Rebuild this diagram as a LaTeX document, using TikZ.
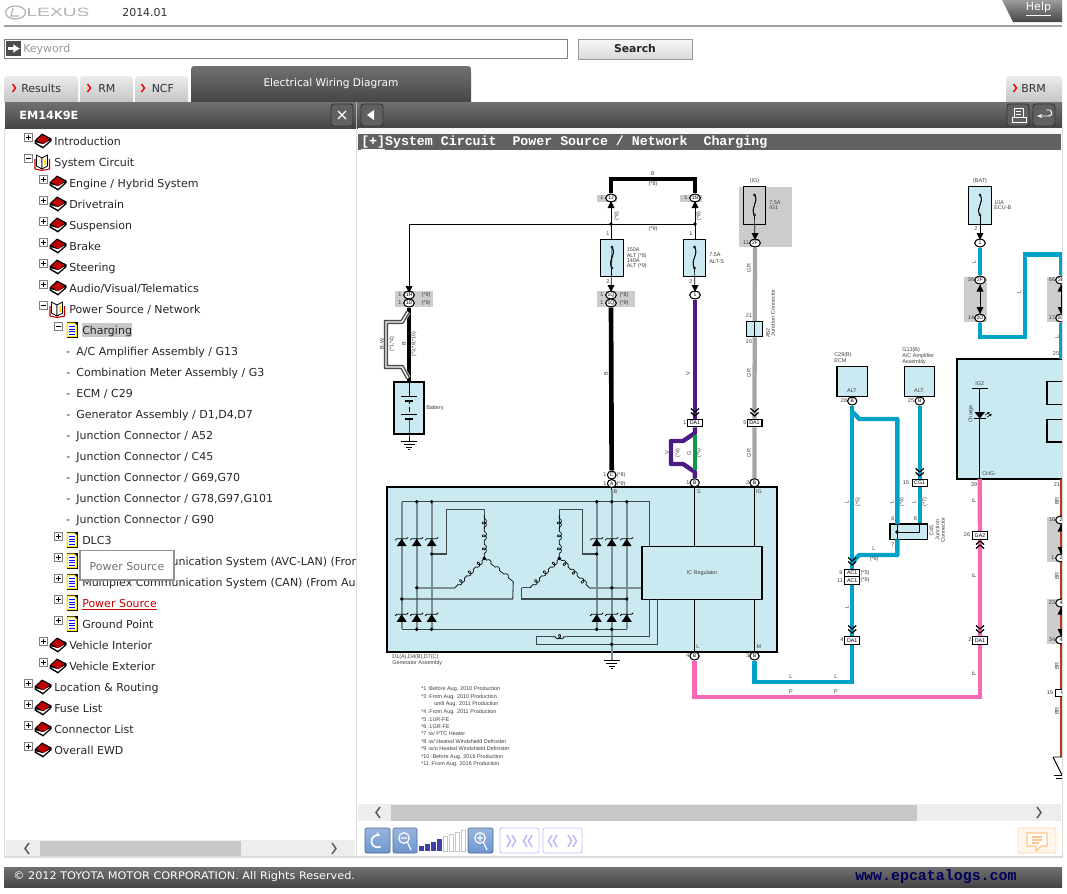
\documentclass[tikz,border=0pt]{standalone}
\usepackage{fontspec}
\setmainfont{DejaVu Sans}
\newfontfamily\libf{Liberation Sans}
\newfontfamily\monof{Liberation Mono}
\usetikzlibrary{shapes.geometric,arrows.meta,decorations.pathmorphing,calc}
\pgfdeclarelayer{bx}\pgfdeclarelayer{wr}\pgfsetlayers{bx,wr,main}
\definecolor{pane}{HTML}{CBE9F1}
\definecolor{wblue}{HTML}{00A2C8}
\definecolor{wpink}{HTML}{F768B5}
\definecolor{wpurple}{HTML}{4D1A85}
\definecolor{wgreen}{HTML}{0A9A4A}
\definecolor{wgray}{HTML}{A6A6A6}
\definecolor{wbrown}{HTML}{B5391A}
\definecolor{gbox}{HTML}{CCCCCC}
\definecolor{gline}{HTML}{7C8E93}
\definecolor{hbar}{HTML}{3F4A4D}
\definecolor{dtop}{HTML}{717171}
\definecolor{dbot}{HTML}{454545}
\definecolor{btnb}{HTML}{6D96CF}
\newcommand{\fsz}[1]{\fontsize{#1}{#1}\selectfont}
\newcounter{nn}
\newcommand{\lab}[3]{\stepcounter{nn}\node[lbl] (t\thenn) at (#1,#2) {#3};}
\newcommand{\labl}[3]{\stepcounter{nn}\node[lbl,anchor=west] (t\thenn) at (#1,#2) {#3};}
\newcommand{\labr}[3]{\stepcounter{nn}\node[lbl,rotate=90] (t\thenn) at (#1,#2) {#3};}
\newcommand{\tbox}[3]{\draw[draw=gray,fill=white,line width=.6pt] (#1-4,#2-4) rectangle (#1+4,#2+4);
 \draw[line width=.55pt] (#1-2.5,#2) -- (#1+2.5,#2);
 \if#3p\draw[line width=.55pt] (#1,#2-2.5) -- (#1,#2+2.5);\fi}
\newcommand{\bookic}[2]{\begin{scope}[shift={(#1,#2)}]
 \fill[black] (-8.5,-.5) -- (-1,-7.5) -- (8.5,-2.5) -- (8.5,0) -- (0,7.5) -- (-8.5,2.5) -- cycle;
 \fill[white] (-7.5,1.3) -- (0,5.7) -- (7,-.5) -- (0,3.2) -- cycle;
 \fill[red!75!black] (-6.5,-.8) -- (-1,-6) -- (6.5,-2) -- (.5,3) -- cycle;
 \end{scope}}
\newcommand{\openic}[2]{\begin{scope}[shift={(#1,#2)}]
 \draw[black,fill=white,line width=.6pt] (-6,-7) -- (-6,4) -- (-.5,7) -- (-.5,-4) -- cycle;
 \draw[black,fill=white,line width=.6pt] (5,-7) -- (5,4) -- (-.5,7) -- (-.5,-4) -- cycle;
 \draw[red!75!black,line width=.8pt] (-7.5,-3) -- (-7.5,7) -- (-.5,8.5) -- (7,7) -- (7,-3);
 \fill[yellow!85!orange] (1,-3) rectangle (3.5,3);
 \end{scope}}
\newcommand{\docic}[2]{\begin{scope}[shift={(#1,#2)}]
 \fill[black] (-5,-8) rectangle (6,8);
 \fill[yellow!85!orange] (-5.5,-7.5) -- (2.5,-7.5) -- (5,-5) -- (5,7) -- (-5.5,7) -- cycle;
 \fill[white] (-4.2,-6.3) -- (2,-6.3) -- (3.8,-4.5) -- (3.8,5.8) -- (-4.2,5.8) -- cycle;
 \foreach \q in {-3.5,-1,1.5,4} \draw[blue,line width=.75pt] (-3,\q) -- (2.7,\q);
 \end{scope}}
\newcommand{\tnode}[3]{\stepcounter{nn}\node[tree] (t\thenn) at (#1,#2+4) {#3};}
\newcommand{\tabp}[4]{(#1,#4) -- (#1,#3+7) .. controls (#1,#3) .. (#1+7,#3) -- (#2-7,#3) .. controls (#2,#3) .. (#2,#3+7) -- (#2,#4) -- cycle}
\newcommand{\zen}[2]{\fill (#1-5,#2+4.5) -- (#1+5,#2+4.5) -- (#1,#2-3) -- cycle;
 \draw[line width=.6pt] (#1-6.5,#2-1.5) -- (#1-5,#2-3) -- (#1+5,#2-3) -- (#1+6.5,#2-4.5);}
\newcommand{\jd}[2]{\fill[black] (#1,#2) circle (1.9);}
\newcommand{\chevd}[2]{\draw[line width=.7pt] (#1-4,#2-3.5) -- (#1,#2) -- (#1+4,#2-3.5) (#1-4,#2+.5) -- (#1,#2+4) -- (#1+4,#2+.5);}
\newcommand{\chevu}[2]{\draw[line width=.7pt] (#1-4,#2+3.5) -- (#1,#2) -- (#1+4,#2+3.5) (#1-4,#2-.5) -- (#1,#2-4) -- (#1+4,#2-.5);}
\newcommand{\fusesym}[3]{\draw[line width=.55pt] (#1,#2) .. controls (#1+5,#2+7) and (#1-5,#3-7) .. (#1,#3);
 \draw[fill=white,line width=.4pt] (#1,#2) circle (1.1) (#1,#3) circle (1.1);}
\newcommand{\gnd}[2]{\draw[line width=.55pt] (#1-8,#2) -- (#1+8,#2) (#1-5.5,#2+3) -- (#1+5.5,#2+3) (#1-3,#2+6) -- (#1+3,#2+6) (#1-1,#2+8) -- (#1+1,#2+8);}
\tikzset{
 lbl/.style={font=\libf\fsz{4.1},text=black!75,inner sep=0pt},
 tree/.style={font=\fsz{8.25},anchor=base west,inner sep=0pt,text=black!85},
 conn/.style={ellipse,draw=black,line width=.8pt,fill=white,minimum width=8pt,minimum height=6pt,inner sep=0pt,font=\libf\fsz{3.8}},
 jbox/.style={rectangle,draw=black,line width=.8pt,fill=white,minimum width=11.2pt,minimum height=5.6pt,inner sep=0pt,font=\libf\fsz{4}},
 fuse/.style={rectangle,draw=black,line width=.9pt,fill=pane,minimum width=17pt,minimum height=28.2pt,inner sep=0pt},
 comp/.style={rectangle,draw=black,line width=.95pt,fill=pane,inner sep=0pt},
 wb/.style={line width=3.3pt,wblue},
 wp/.style={line width=3.3pt,wpink},
 wv/.style={line width=3.3pt,wpurple},
 wk/.style={line width=3.5pt,black},
 wgr/.style={line width=3.2pt,wgray},
 thin wire/.style={line width=.5pt,black},
 gv/.style={line width=1.2pt,gline},
 gh/.style={line width=.8pt,hbar},
 tab/.style={top color=white!85!gray,bottom color=gray!45},
 tabtxt/.style={font=\fsz{8.25},text=black!80,inner sep=0pt},
 dbtn/.style={draw=black!80,line width=.7pt,rounded corners=2pt,fill=black!62},
 tb/.style={top color=btnb!70,bottom color=btnb,draw=btnb!70!black,line width=.5pt,rounded corners=1.5pt},
 tbp/.style={fill=white,draw=blue!25,line width=.6pt,rounded corners=1.5pt},
 coiled/.style={decoration={coil,aspect=.85,segment length=2.6pt,amplitude=1.6pt}},
}
\newcommand{\wind}[2]{\draw[line width=.5pt,coiled] (#1) -- ($(#1)!.08!(#2)$) decorate{-- ($(#1)!.3!(#2)$)} -- ($(#1)!.38!(#2)$) decorate{-- ($(#1)!.6!(#2)$)} -- ($(#1)!.68!(#2)$) decorate{-- ($(#1)!.9!(#2)$)} -- (#2);}
\begin{document}
\begin{tikzpicture}[x=.75pt,y=-.75pt]
\useasboundingbox (0,0) rectangle (1067,893);
\begin{pgfonlayer}{bx}
\fill[white] (0,0) rectangle (1067,893);
\end{pgfonlayer}

%%%% ---------- header ----------
\draw[gray!75,line width=1.3pt] (4,26) -- (1062,26);
\draw[gray!60,line width=.9pt] (15.5,12.5) ellipse (10 and 6.5);
\draw[gray!60,line width=.9pt] (13,8) -- (11,16) -- (19,16);
\node[font=\libf\fsz{9},text=gray!60,inner sep=0pt,xscale=1.6] (logo) at (58,12.5) {LEXUS};
\node[font=\fsz{8.25},text=black!80,inner sep=0pt] (ver) at (145,12) {2014.01};
\shade[top color=dtop!70,bottom color=dbot] (1002,0) -- (1013,22) -- (1062,22) -- (1062,0) -- cycle;
\node[font=\fsz{8.25},text=white,inner sep=0pt] (help) at (1038.5,9) {\underline{Help}};
\draw[gray,fill=white,line width=.7pt] (4.5,39.5) rectangle (567,58);
\fill[black!70] (6,41) rectangle (21,56);
\draw[white,line width=2pt,-{Latex[length=5pt,width=7pt]}] (8,48.5) -- (20,48.5);
\node[font=\fsz{8.25},text=black!40,anchor=west,inner sep=0pt] (kw) at (23,49) {Keyword};
\shade[top color=white!95!gray,bottom color=gray!30,draw=gray!80,line width=.6pt] (578,39) rectangle (692,59);
\node[font=\bfseries\fsz{8.1},text=black!85,inner sep=0pt] (srch) at (635,48.5) {Search};

%%%% ---------- tabs ----------
\shade[tab] \tabp{4}{78}{76}{102};
\shade[tab] \tabp{80}{133}{76}{102};
\shade[tab] \tabp{135}{188}{76}{102};
\shade[tab] \tabp{1006}{1062}{76}{102};
\shade[top color=dtop,bottom color=dbot] \tabp{191}{471}{66}{102};
\foreach \px in {14,89,143,1015}
 \draw[red,line width=1.1pt] (\px-1.5,84) -- (\px+1.5,88) -- (\px-1.5,92);
\node[tabtxt,anchor=west] (tres) at (21,88) {Results};
\node[tabtxt,anchor=west] (trm) at (98,88) {RM};
\node[tabtxt,anchor=west] (tncf) at (151.5,88) {NCF};
\node[tabtxt,anchor=west] (tbrm) at (1021,88) {BRM};
\node[font=\fsz{7.95},text=white,inner sep=0pt] (tewd) at (331,84) {Electrical Wiring Diagram};

\shade[top color=dtop,bottom color=dbot] (5,102) rectangle (1062,128);
\draw[gray!60,line width=.6pt] (356,102) -- (356,128);
\node[font=\bfseries\fsz{8.5},text=white,anchor=west,inner sep=0pt] (em) at (19,115) {EM14K9E};
\draw[dbtn] (331,104) rectangle (353,126);
\draw[white,line width=1pt] (338,111) -- (346,119) (338,119) -- (346,111);
\draw[dbtn] (361,104) rectangle (383,126);
\fill[white] (367,115) -- (374,110) -- (374,120) -- cycle;
\draw[dbtn] (1007,104) rectangle (1029,126);
\draw[white,line width=.7pt] (1014,108) rectangle (1023,117) (1012,117) -- (1012,122) -- (1026,122) -- (1026,117) -- cycle (1016,111) -- (1021,111) (1016,114) -- (1021,114);
\draw[dbtn] (1033,104) rectangle (1055,126);
\draw[white,line width=.7pt,-{Stealth[length=4pt]}] (1046,110) -- (1050,110) .. controls (1053,113) and (1052,116) .. (1048,116) -- (1037,116);

%%%% ---------- panels ----------
\fill[black!3] (358,128) rectangle (1062,134);
\fill[black!62] (358,134) rectangle (1061,150);
\node[font=\monof\bfseries\fsz{9.95},text=white,anchor=west,inner sep=0pt] (ttl) at (361,143) {\underline{[+]}System Circuit~~Power Source / Network~~Charging};
\draw[black!14,line width=1pt] (4.5,128) -- (4.5,857) -- (1062.5,857) -- (1062.5,128);
\draw[black!14,line width=.7pt] (356.5,128) -- (356.5,857);

%%%% ---------- tree ----------
\begin{scope}
\clip (5,130) rectangle (355,856);
\foreach \y/\tx in {141/{Introduction},687/{Location \& Routing},708/{Fuse List},729/{Connector List},750/{Overall EWD}}{
  \tbox{28.5}{\y-4}{p}\bookic{43}{\y}\tnode{54}{\y}{\tx}}
\tbox{28.5}{158}{m}\openic{42.5}{162}\tnode{54}{162}{System Circuit}
\foreach \y/\tx in {183/{Engine / Hybrid System},204/{Drivetrain},225/{Suspension},246/{Brake},267/{Steering},288/{Audio/Visual/Telematics},645/{Vehicle Interior},666/{Vehicle Exterior}}{
  \tbox{43.5}{\y-4}{p}\bookic{58}{\y}\tnode{69}{\y}{\tx}}
\tbox{43.5}{305}{m}\openic{57.5}{309}\tnode{69}{309}{Power Source / Network}
\fill[black!22] (82,323) rectangle (132,337);
\tbox{58.5}{326}{m}\docic{72}{330}\tnode{82}{330}{Charging}
\foreach \y/\tx in {351/{A/C Amplifier Assembly / G13},372/{Combination Meter Assembly / G3},393/{ECM / C29},414/{Generator Assembly / D1,D4,D7},435/{Junction Connector / A52},456/{Junction Connector / C45},477/{Junction Connector / G69,G70},498/{Junction Connector / G78,G97,G101},519/{Junction Connector / G90}}{
  \tnode{66}{\y}{-\hspace{4.6pt}\tx}}
\foreach \y/\tx in {540/{DLC3},561/{Multiplex Communication System (AVC-LAN) (From Aug. 2010 Production)},582/{Multiplex Communication System (CAN) (From Aug. 2010 Production)},624/{Ground Point}}{
  \tbox{58.5}{\y-4}{p}\docic{72}{\y}\tnode{82}{\y}{\tx}}
\tbox{58.5}{599}{p}\docic{72}{603}
\node[tree,text=red!75!black] (psl) at (82,607) {\underline{Power Source}};
\end{scope}
\draw[gray!85,fill=white,line width=1.1pt] (80,550.5) rectangle (174,580);
\node[font=\fsz{8.25},text=black!55,inner sep=0pt] (tip) at (127,566) {Power Source};

%%%% ---------- scrollbars / toolbar / footer ----------
\fill[black!7] (358,804) rectangle (1061,821);
\fill[black!22] (391,805) rectangle (917,821);
\draw[black!65,line width=1.1pt] (380,807) -- (376,812.5) -- (380,818) (1037,807) -- (1041,812.5) -- (1037,818);
\fill[black!7] (6,840) rectangle (355,856);
\fill[black!22] (40,841) rectangle (241,856);
\draw[black!65,line width=1.1pt] (29,843) -- (25,848.5) -- (29,854) (332,843) -- (336,848.5) -- (332,854);
\draw[tb] (365,828) rectangle (390,853);
\draw[white,line width=1.3pt,-{Stealth[length=4pt]}] (380.5,846.5) arc[start angle=60,end angle=300,radius=6];
\draw[tb] (393,828) rectangle (417,853);
\draw[white,line width=.9pt] (404,838) circle (5.3) (404+3.5,838+4.5) -- (411,850) (401,838) -- (407,838);
\foreach \i/\h in {0/5,1/7,2/9,3/12,4/15,5/17,6/19,7/21}{
  \ifnum\i<4 \fill[blue!55!black!75] (419+\i*6,851-\h) rectangle (423.5+\i*6,851);
  \else \draw[black!22,line width=.5pt] (419+\i*6,851-\h) rectangle (423.5+\i*6,851); \fi}
\draw[tb] (468,828) rectangle (493,853);
\draw[white,line width=.9pt] (480,838) circle (5.3) (480+3.5,838+4.5) -- (487,850) (477,838) -- (483,838) (480,835) -- (480,841);
\draw[tbp] (500,828) rectangle (539,853);
\draw[tbp] (543,828) rectangle (582,853);
\foreach \c/\s in {507/1,512/1,532/-1,527/-1,557/-1,552/-1,568/1,573/1}{
  \draw[blue!28,line width=1.1pt] (\c,835) -- (\c+\s*3.5,841) -- (\c,847);}
\draw[draw=orange!30,fill=orange!8,line width=.6pt,rounded corners=1.5pt] (1018,828) rectangle (1056,853);
\draw[orange!45,fill=white,line width=1pt] (1027,833) -- (1047,833) -- (1047,846) -- (1041,846) -- (1036,851) -- (1036,846) -- (1027,846) -- cycle;
\draw[orange!45,line width=.8pt] (1032,837) -- (1042,837) (1032,840) -- (1042,840) (1032,843) -- (1039,843);
\shade[top color=dtop,bottom color=dbot] (4,867) rectangle (1062,887);
\node[font=\fsz{7.85},text=white,anchor=west,inner sep=0pt,xscale=1.075] (copy) at (13,877) {© 2012 TOYOTA MOTOR CORPORATION. All Rights Reserved.};
\node[font=\monof\bfseries\fsz{11.2},text=blue!35!black,anchor=west,inner sep=0pt] (web) at (855,877) {www.epcatalogs.com};

%%%% ---------- diagram: gray areas and components (behind wires) ----------
\begin{pgfonlayer}{bx}
\fill[gbox] (597,195) rectangle (617,202);
\fill[gbox] (680,195) rectangle (702,202);
\fill[gbox] (395,291) rectangle (433,307);
\fill[gbox] (597,291) rectangle (635,307);
\fill[gbox] (739.3,186.7) rectangle (792,246.7);
\fill[gbox] (964.3,276.7) rectangle (987.3,321.7);
\fill[gbox] (1047.3,276.7) rectangle (1070,321.7);
\fill[gbox] (1047,516.7) rectangle (1070,561.7);
\fill[gbox] (1047,599.3) rectangle (1070,644.3);
\node[fuse] (f150) at (612,258) {};
\node[fuse] (f75) at (694.5,258) {};
\node[fuse,fill=gbox] (fig) at (754.5,205.5) {};
\node[fuse] (fbat) at (980,205.5) {};
\node[comp,minimum width=22.5pt,minimum height=39pt] (batt) at (409,408) {};
\node[comp,minimum width=292.5pt,minimum height=123.75pt] (gen) at (582,569.5) {};
\node[comp,minimum width=90pt,minimum height=39.5pt] (ic) at (702,573) {};
\node[comp,minimum width=12pt,minimum height=11.2pt] (a52) at (754.7,329.2) {};
\node[comp,minimum width=22.8pt,minimum height=22.5pt] (ecm) at (852.2,381.7) {};
\node[comp,minimum width=22.8pt,minimum height=22.5pt] (acamp) at (919.5,381.7) {};
\node[comp,minimum width=28pt,minimum height=11.5pt] (c45) at (908.7,531.7) {};
\node[comp,minimum width=90pt,minimum height=90pt] (meter) at (1017,419) {};
\draw[line width=.8pt] (1047,381.7) rectangle (1075,404.3) (1047,419.3) rectangle (1075,442);
\end{pgfonlayer}

%%%% ---------- connectors ----------
\node[conn] (j1) at (611,198) {1J};
\node[conn] (j2) at (695,198) {1N};
\node[conn] (h1) at (409,295) {1H};
\node[conn] (h2) at (409,303) {1D};
\node[conn] (q1) at (611,295) {1Q};
\node[conn] (q2) at (611,303) {1Q};
\node[conn] (pw) at (695,295) {1};
\node[jbox] (da1) at (695,423) {DA1};
\node[jbox] (da2) at (754.5,423) {DA1};
\node[conn,minimum width=6.5pt] (c1) at (611.7,475) {C};
\node[conn,minimum width=6.5pt] (a1) at (611.7,483.5) {A};
\node[conn,minimum width=7pt] (bs) at (694.7,482.7) {B};
\node[conn,minimum width=7pt] (big) at (754.5,482.7) {B};
\node[conn,minimum width=7pt] (bl) at (694.5,656) {B};
\node[conn,minimum width=7pt] (bm) at (754.5,656) {B};
\node[conn] (f2f) at (755,243) {2F};
\node[conn] (b1) at (980,243) {1};
\node[conn] (b2f) at (980,280) {2F};
\node[conn] (b2o) at (980,318) {2O};
\node[conn] (r2f) at (1061,280) {2F};
\node[conn] (r2o) at (1061,318) {2O};
\node[conn,minimum width=7pt] (ecmb) at (852.2,401) {B};
\node[conn,minimum width=7pt] (acb) at (919.7,401) {B};
\node[jbox] (cg1) at (919.7,483) {CG1};
\node[jbox] (ac1) at (852.2,573) {AC1};
\node[jbox] (ac2) at (852.2,580.5) {AC1};
\node[jbox] (da3) at (852.2,640.3) {DA1};
\node[jbox] (ga2) at (980,535.3) {GA2};
\node[jbox] (da4) at (980,640.3) {DA1};
\node[conn] (r1) at (1061,520) {2};
\node[conn] (r2) at (1061,558) {2};
\node[conn] (r3) at (1061,603) {4};
\node[conn] (r4) at (1061,640) {4};
\node[jbox] (r5) at (1063,693) {C};
\coordinate (pktop) at (979.7,479);
\coordinate (brtop) at (1061,479);
\coordinate (brbot) at (1061,757);
\coordinate (mettop) at (1061,359);

%%%% ---------- wires ----------
\begin{pgfonlayer}{wr}
\draw[wk] (j1) -- (611,179) -- (695,179) -- (j2);
\coordinate (dl) at (611,224); \coordinate (dr) at (695,224);
\draw[thin wire] (dr) -- (409,224) -- (h1);
\draw[thin wire] (f150.north-|j1) -- (j1);
\draw[thin wire] (f75.north-|j2) -- (j2);
\draw[thin wire] (612,247) -- (q1);
\draw[thin wire] (694.5,268) -- (pw);
\draw[wk] (q2) -- (c1);
\draw[wv] (pw) -- (da1);
\draw[wgr] (f2f) -- (a52) -- (da2) -- (big);
\draw[thin wire] (fig.south) ++(0,-10) -- (f2f);
\draw[thin wire] (fbat.south) ++(0,-10) -- (b1);
\draw[wb] (b1) -- (b2f);
\draw[thin wire] (b2f) -- (b2o);
\draw[wb,line join=miter] (b2o) -- (980,336.7) -- (1025,336.7) -- (1025,254.3) -- (1061,254.3) -- (r2f);
\draw[thin wire] (r2f) -- (r2o);
\draw[wb] (r2o) -- (mettop);
% purple/green loop
\draw[wv,line join=round] (da1) -- (695,433) -- (683,441) -- (671,441) -- (671,464) -- (683,464) -- (695,472) -- (bs);
\draw[line width=2.8pt,wgreen] (695,435) -- (695,470);
% battery leads
\draw[white,line width=4.6pt] (h2) -- (batt);
\draw[wk] (h2) -- (batt);
\draw[line width=4pt,white] (408,312) -- (402,322) -- (386,322) -- (386,367) -- (402,367) -- (408,378);
\draw[line width=3.2pt,black!70] (408,312) -- (402,322) -- (386,322) -- (386,367) -- (402,367) -- (408,378);
\draw[line width=1pt,white] (408,312) -- (402,322) -- (386,322) -- (386,367) -- (402,367) -- (408,378);
% blue right side
\draw[wb] (ecmb) -- (da3 |- ac1.north);
\draw[wb,line join=round] (852.3,411.7) -- (859.3,419) -- (897.3,419) -- (897.3,524);
\draw[wb] (acb) -- (cg1) -- (cg1 |- c45.north);
\draw[wb,line join=round] (897.3,539.3) -- (897.3,555) -- (859.3,555) -- (852.2,562);
\draw[wb] (ac2) -- (da3);
\draw[wb,line join=miter] (da3) -- (852.2,681.7) -- (754.5,681.7) -- (bm);
\draw[wp] (pktop) -- (ga2) -- (da4);
\draw[wp,line join=miter] (da4) -- (980,696.7) -- (694.5,696.7) -- (bl);
\draw[line width=.8pt,wbrown] (brtop) -- (brbot);
\end{pgfonlayer}

%%%% ---------- generator interior ----------
\foreach \x in {401.7,416.7,431.7,596.7,626.7} \draw[gv] (\x,501.7) -- (\x,629.3);
\draw[thin wire] (c1) -- (a1) -- (611.7,660);
\draw[gv] (611.7,490) -- (611.7,660);
\draw[gh] (401.7,501.7) -- (649.3,501.7) -- (649.3,546.7);
\draw[gh] (401.7,629.3) -- (626.7,629.3);
\draw[gh] (401.7,599) -- (512.7,599) -- (513.3,581.7);
\draw[gh] (521.7,587.7) -- (521.7,599) -- (626.7,599);
\draw[gh] (531,587.7) -- (521.7,587.7);
\draw[gh] (484.3,530) -- (484.3,509.3) -- (446.7,509.3) -- (446.7,554) -- (431.7,554);
\draw[gh] (559.3,530) -- (559.3,509.3) -- (582.3,509.3) -- (582.3,554) -- (596.7,554);
\draw[gv] (416.7,587.7) -- (455,587.7);
\draw[gv] (589.3,587.7) -- (ic.west|-589.3,587.7);
\coordinate (s1) at (484.3,558.3); \coordinate (s2) at (559.3,558.3);
\coordinate (s1t) at (484.3,515); \coordinate (s2t) at (559.3,515);
\coordinate (s1l) at (455,587.7); \coordinate (s1r) at (513.3,581.7);
\coordinate (s2l) at (530,587.7); \coordinate (s2r) at (589.3,587.7);
\wind{s1t}{s1}\wind{s1}{s1l}\wind{s1}{s1r}\wind{s2t}{s2}\wind{s2}{s2l}\wind{s2}{s2r}
\draw[gh] (649.3,599.3) -- (649.3,636.7) -- (566.7,636.7);
\draw[line width=.55pt,coiled] (566.7,636.7) -- (564,636.7) decorate{-- (554,636.7)} -- (551.7,636.7);
\draw[gh] (551.7,636.7) -- (536.7,636.7) -- (536.7,644.3) -- (657.3,644.3) -- (657.3,599.3);
\draw[thin wire] (bs) -- (ic.north-|bs);
\draw[thin wire] (big) -- (ic.north-|big);
\draw[thin wire] (bl) -- (ic.south-|bl);
\draw[thin wire] (bm) -- (ic.south-|bm);
\foreach \x in {401.7,416.7,431.7,596.7,611.7,626.7}{\zen{\x}{541.7}\zen{\x}{617.3}}
\foreach \x/\y in {416.7/501.7,431.7/501.7,596.7/501.7,611.7/501.7,626.7/501.7,431.7/554,596.7/554,416.7/587.7,611.7/587.7,401.7/599,626.7/599,416.7/629.3,431.7/629.3,596.7/629.3,611.7/629.3,611.7/644.3,484.3/558.3,559.3/558.3}{\jd{\x}{\y}}
\gnd{611.7}{660}

%%%% ---------- symbols on wires ----------
\foreach \p/\y in {611/205,695/205}{\fill (\p,\y-4) -- (\p-3.5,\y+3) -- (\p+3.5,\y+3) -- cycle;}
\foreach \p/\y in {409/289,611/288,695/288,755/236,980/236,980/310}{\fill (\p,\y+4) -- (\p-3.5,\y-3) -- (\p+3.5,\y-3) -- cycle;}
\fill (980,284.5) -- (976.5,291.5) -- (983.5,291.5) -- cycle;
\fill (1061,284.5) -- (1057.5,291.5) -- (1064.5,291.5) -- cycle;
\fill (1061,314) -- (1057.5,307) -- (1064.5,307) -- cycle;
\fill (1061,524.5) -- (1057.5,531.5) -- (1064.5,531.5) -- cycle;
\fill (1061,554) -- (1057.5,547) -- (1064.5,547) -- cycle;
\fill (1061,607.5) -- (1057.5,614.5) -- (1064.5,614.5) -- cycle;
\fill (1061,636) -- (1057.5,629) -- (1064.5,629) -- cycle;
\foreach \p in {611,695}\jd{\p}{224}
\fusesym{612}{247}{268}\fusesym{694.5}{247}{268}\fusesym{754.5}{195}{215}\fusesym{980}{195}{215}
\chevd{695}{412}\chevd{754.5}{412}\chevd{919.7}{472}\chevd{852.2}{561}\chevd{852.2}{629}\chevd{980}{629}\chevu{980}{545}
\draw[line width=.55pt] (754.7,321.7) -- (754.7,336.7);
% battery symbol
\draw[thin wire] (409,382) -- (409,397) (409,400) -- (409,404) (409,407) -- (409,412) (409,418) -- (409,434) -- (409,441);
\draw[line width=.55pt] (401,396) -- (417,396) (401,414) -- (417,414);
\draw[line width=1.6pt] (405,401) -- (413,401) (405,419) -- (413,419);
\gnd{409}{441}
% C45 interior
\draw[thin wire] (897,524) -- (897,539.3) (897,532) -- (919.7,532) -- (919.7,524);
\jd{897}{532}
% meter interior
\draw[thin wire] (979.7,388) -- (pktop);
\draw[line width=.6pt] (972,388) -- (988,388);
\fill (974.5,412) -- (985,412) -- (979.7,418.5) -- cycle;
\draw[line width=.6pt] (974,418.5) -- (985.5,418.5);
\draw[line width=.45pt,-{Latex[length=2pt,width=2pt]}] (985,415) -- (990,412);
\draw[line width=.45pt,-{Latex[length=2pt,width=2pt]}] (987,417) -- (992,414);
% right-edge parts
\fill[white] (1053,757) -- (1062,757) -- (1062,775) -- cycle;
\draw[line width=.7pt] (1053,757) -- (1062,757) (1053,757) -- (1062,775);
\draw[line width=.55pt] (1054,775) -- (1062,775) (1056,778) -- (1062,778);

%%%% ---------- diagram labels ----------
\lab{653}{174}{B}\lab{653}{184}{(*8)}\lab{653}{229}{(*9)}
\lab{602}{198}{1}\lab{686}{198}{1}
\labr{617}{216}{(*8)}\labr{699}{216}{(*8)}
\lab{608}{234}{1}\lab{691}{234}{1}\lab{608}{282}{2}\lab{691}{282}{2}
\labl{626.5}{250}{150A}\labl{626.5}{256}{ALT (*8)}\labl{626.5}{261}{140A}\labl{626.5}{266}{ALT (*9)}
\labl{709}{255}{7.5A}\labl{709}{262}{ALT-S}
\lab{400}{295}{1}\lab{400}{303}{1}\lab{426}{295}{(*8)}\lab{426}{303}{(*9)}
\lab{602}{295}{1}\lab{602}{303}{1}\lab{624}{295}{(*8)}\lab{624}{303}{(*9)}
\labr{382}{344}{B-W}\labr{392}{344}{(*1,*4)}\labr{404}{344}{B}\labr{414}{344}{(*3,*8,*10)}
\labl{426}{408}{Battery}
\labr{606}{374}{B}\labr{688}{374}{V}
\lab{685}{423}{1}\lab{745}{423}{5}
\labr{667}{453}{V}\labr{678}{453}{(*4)}\labr{689}{453}{G}\labr{699}{453}{(*5)}
\lab{605}{475}{1}\lab{605}{484}{1}\lab{621}{475}{(*8)}\lab{621}{484}{(*9)}
\lab{688}{483}{1}\lab{748}{483}{2}
\lab{615.5}{492}{B}\lab{699}{492}{S}\lab{759}{492}{IG}\lab{698}{647}{L}\lab{759}{647}{M}
\lab{688}{656}{4}\lab{748}{656}{3}
\labl{392}{657}{D1(A),D4(B),D7(C)}\labl{392}{663}{Generator Assembly}
\lab{702}{573}{IC Regulator}
\labl{421}{689.3}{*1 :Before Aug. 2010 Production}
\labl{421}{697}{*3 :From Aug. 2010 Production}
\labl{434}{704.3}{until Aug. 2011 Production}
\labl{421}{712}{*4 :From Aug. 2011 Production}
\labl{421}{719.3}{*5 :1UR-FE}
\labl{421}{727}{*6 :1GR-FE}
\labl{421}{734}{*7 :w/ PTC Heater}
\labl{421}{742}{*8 :w/ Heated Windshield Defroster}
\labl{421}{749}{*9 :w/o Heated Windshield Defroster}
\labl{421}{757}{*10 :Before Aug. 2016 Production}
\labl{421}{764}{*11 :From Aug. 2016 Production}
\lab{754.5}{181}{(IG)}\labl{769}{203}{7.5A}\labl{769}{208}{IG1}
\lab{746}{243}{11}\labr{749}{268}{GR}\labr{749}{373}{GR}\labr{749}{453}{GR}
\lab{749}{316}{21}\lab{749}{342}{20}
\labr{768}{333}{A52}\labr{773}{313}{Junction Connector}
\lab{980}{181}{(BAT)}\labl{994}{203}{10A}\labl{994}{208}{ECU-B}
\lab{976}{229}{2}\labr{974}{262}{L}\lab{971}{280}{36}\lab{971}{318}{14}\labr{1019}{292}{L}
\lab{1052}{280}{66}\lab{1052}{318}{17}\labr{1057}{337}{L}\lab{1056}{354}{25}
\labl{834}{355}{C29(B)}\labl{834}{361}{ECM}\lab{852}{391}{ALT}\lab{844}{401}{28}
\labl{902}{350}{G13(B)}\labl{902}{356}{A/C Amplifier}\labl{902}{362}{Assembly}\lab{919}{391}{ALT}\lab{911}{401}{25}
\lab{979.7}{384}{IG2}\labr{971}{414}{Charge}\labl{982}{474}{CHG-}\lab{974}{485}{39}\lab{1057}{485}{21}
\labr{914}{502}{L}\labr{925}{502}{(*7)}\lab{906}{483}{15}
\labr{847}{502}{L}\labr{858}{502}{(*5)}\labr{892}{502}{L}\labr{902}{502}{(*4)}
\lab{893}{519}{6}\lab{915.5}{519}{8}\lab{893}{545}{7}
\labr{931.5}{530}{C45}\labr{937.5}{530}{Junction}\labr{943}{530}{Connector}
\lab{874}{549}{L}\lab{874}{559}{(*6)}
\lab{841}{573}{9}\lab{840}{580.5}{11}\lab{865}{573}{(*5)}\lab{865}{580.5}{(*6)}
\labr{847}{607}{L}\lab{842}{640}{4}\lab{791}{677}{L}\lab{836}{677}{L}\lab{791}{692}{P}\lab{836}{692}{P}
\labr{974}{501}{P}\lab{967}{535}{26}\labr{974}{576}{P}\lab{970}{640}{2}\labr{974}{674}{P}
\labr{1057}{501}{BR}\lab{1052}{520}{16}\lab{1053}{558}{1}\labr{1057}{576}{BR}\lab{1052}{603}{22}\lab{1052}{640}{34}\labr{1057}{666}{BR}\lab{1050}{693}{19}\labr{1057}{711}{BR}

%%%% ---------- right mask over clipped diagram ----------
\fill[white] (1063,130) rectangle (1067,860);
\draw[black!14,line width=1pt] (1062.5,128) -- (1062.5,857);
\end{tikzpicture}
\end{document}
